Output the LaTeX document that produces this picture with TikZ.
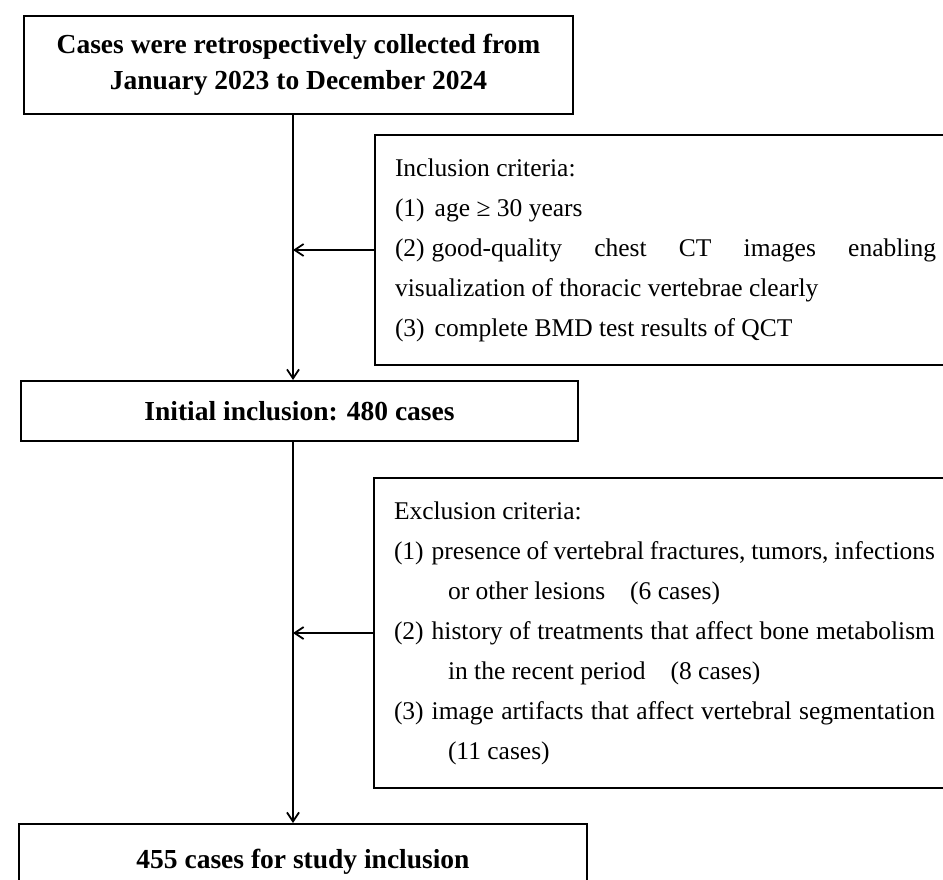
\documentclass[tikz,border=0pt]{standalone}
\usepackage{fontspec}
\setmainfont{Liberation Serif}
\usetikzlibrary{arrows.meta}
\newcommand{\jline}[1]{\makebox[541pt][s]{\spaceskip=0pt\xspaceskip=0pt\relax #1}}
\begin{document}
\begin{tikzpicture}[x=1pt,y=-1pt,
  box/.style={draw, line width=2pt, inner sep=0pt, align=center,
    font=\fontsize{27.5pt}{36pt}\selectfont\bfseries,
    execute at begin node={\spaceskip=0pt\xspaceskip=0pt\relax}},
  crit/.style={draw, line width=2pt, inner xsep=20pt, inner ysep=0pt,
    text width=541pt, align=left, font=\fontsize{25.5pt}{40pt}\selectfont,
    execute at begin node={\spaceskip=0pt\xspaceskip=0pt\relax}},
  arr/.style={line width=1.8pt, -{Straight Barb[length=9pt,width=12pt]}}]
\clip (0,0) rectangle (943,880);
\fill[white] (0,0) rectangle (943,880);
\node[box, anchor=north west, minimum width=549pt, minimum height=98pt] (b1) at (23,15)
  {Cases were retrospectively collected from\\ January 2023 to December 2024};
\node[box, anchor=north west, minimum width=557pt, minimum height=60pt] (b2) at (20,380)
  {Initial inclusion: 480 cases};
\node[box, anchor=north west, minimum width=568pt, minimum height=76pt] (b3) at (18,823)
  {455 cases for study inclusion};
\node[crit, anchor=north west, minimum height=230pt] (inc) at (374,134)
  {Inclusion criteria:\\
   (1)\kern10pt age ≥ 30 years\\
   \jline{(2)\kern7pt good-quality chest CT images enabling}\\
   visualization of thoracic vertebrae clearly\\
   (3)\kern10pt complete BMD test results of QCT};
\node[crit, anchor=north west, minimum height=310pt] (exc) at (373,477)
  {Exclusion criteria:\\
   \jline{(1)\kern8pt presence of vertebral fractures, tumors, infections}\\
   \hspace*{54pt}or other lesions\hspace{25pt}(6 cases)\\
   \jline{(2)\kern8pt history of treatments that affect bone metabolism}\\
   \hspace*{54pt}in the recent period\hspace{25pt}(8 cases)\\
   \jline{(3)\kern8pt image artifacts that affect vertebral segmentation}\\
   \hspace*{54pt}(11 cases)};
\coordinate (spine) at (293,0);
\draw[arr] (b1.south -| spine) -- (b2.north -| spine);
\draw[arr] (b2.south -| spine) -- (b3.north -| spine);
\draw[arr] (inc.west) -- (inc.west -| spine);
\draw[arr] (exc.west) -- (exc.west -| spine);
\end{tikzpicture}
\end{document}
